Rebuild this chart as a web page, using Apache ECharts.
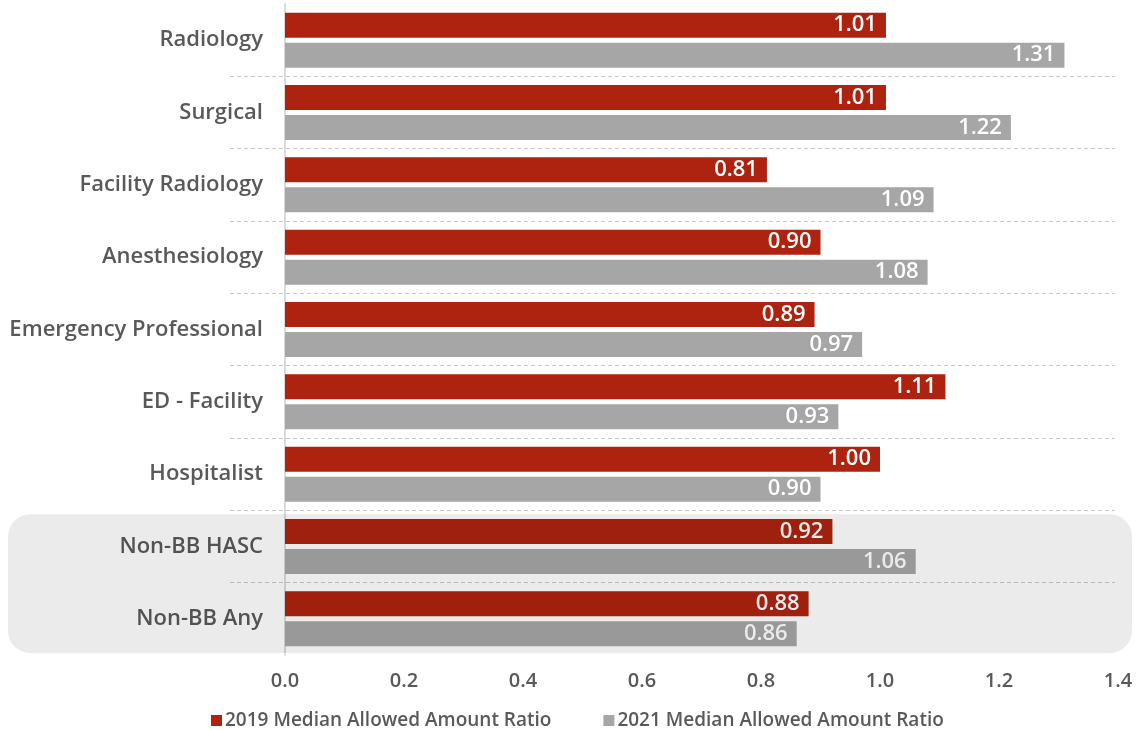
<!DOCTYPE html>
<html>
<head>
<meta charset="utf-8">
<script src="https://cdn.jsdelivr.net/npm/echarts@6/dist/echarts.min.js"></script>
<style>
html,body{margin:0;padding:0;background:#fff;}
#chart{width:1136px;height:730px;}
</style>
</head>
<body>
<div id="chart"></div>
<script>
var categories = ["Radiology","Surgical","Facility Radiology","Anesthesiology","Emergency Professional","ED - Facility","Hospitalist","Non-BB HASC","Non-BB Any"];
var series2019 = [1.01,1.01,0.81,0.90,0.89,1.11,1.00,0.92,0.88];
var series2021 = [1.31,1.22,1.09,1.08,0.97,0.93,0.90,1.06,0.86];
var seriesNames = ["2019 Median Allowed Amount Ratio","2021 Median Allowed Amount Ratio"];
var highlighted = ["Non-BB HASC","Non-BB Any"];

var FONT = "'Open Sans', 'Liberation Sans', sans-serif";
var chart = echarts.init(document.getElementById('chart'), null, {renderer:'canvas'});

var labelStyle = {
  show:true, position:'insideRight', distance:9,
  color:'#ffffff', fontSize:22, fontWeight:600, fontFamily:FONT,
  formatter:function(p){return p.value.toFixed(2);}
};

var option = {
  animation:false,
  textStyle:{fontFamily:FONT},
  grid:[
    {left:285, right:18, top:4, bottom:75, containLabel:false},
    {left:230, right:21, top:4, bottom:75, containLabel:false}
  ],
  legend:{
    data:seriesNames, left:206, top:706,
    itemWidth:11, itemHeight:11, itemGap:52,
    icon:'rect',
    textStyle:{color:'#595959', fontSize:19, fontWeight:600, fontFamily:FONT, padding:[0,0,0,-2]}
  },
  xAxis:[
    {type:'value', gridIndex:0, min:0, max:1.4, interval:0.2,
     axisLine:{show:false}, axisTick:{show:false}, splitLine:{show:false},
     axisLabel:{color:'#595959', fontSize:20, fontWeight:600, fontFamily:FONT, margin:16,
       formatter:function(v){return v.toFixed(1);}}},
    {type:'value', gridIndex:1, min:0, max:1, show:false}
  ],
  yAxis:[
    {type:'category', gridIndex:0, data:categories, inverse:true,
     axisLine:{show:true, lineStyle:{color:'#cfcfcf', width:1.5}},
     axisTick:{show:false}, splitLine:{show:false},
     axisLabel:{color:'#595959', fontSize:22, fontWeight:600, fontFamily:FONT, margin:22}},
    {type:'category', gridIndex:1, data:categories, inverse:true,
     axisLine:{show:false}, axisTick:{show:false}, axisLabel:{show:false},
     splitLine:{show:true, showMinLine:false, showMaxLine:false,
       lineStyle:{color:'#c8c8c8', type:[4,3], width:1}}}
  ],
  series:[
    {name:seriesNames[0], type:'bar', xAxisIndex:0, yAxisIndex:0,
     data:series2019, barWidth:25, barGap:'20%',
     itemStyle:{color:'#AE2310'}, label:labelStyle},
    {name:seriesNames[1], type:'bar', xAxisIndex:0, yAxisIndex:0,
     data:series2021, barWidth:25, barGap:'20%',
     itemStyle:{color:'#A6A6A6'}, label:labelStyle}
  ]
};
chart.setOption(option);

// highlight band over the Non-BB rows, positioned from the category axis
(function(){
  var c0 = chart.convertToPixel({yAxisIndex:0}, highlighted[0]);
  var c1 = chart.convertToPixel({yAxisIndex:0}, highlighted[1]);
  var band = c1 - c0;
  var y0 = c0 - band/2 + 4;
  var y1 = c1 + band/2 - 2;
  chart.setOption({
    graphic:[{
      type:'rect', z:100, silent:true,
      shape:{x:8, y:y0, width:1124, height:y1-y0, r:22},
      style:{fill:'rgba(0,0,0,0.08)'}
    }]
  });
})();
</script>
</body>
</html>
